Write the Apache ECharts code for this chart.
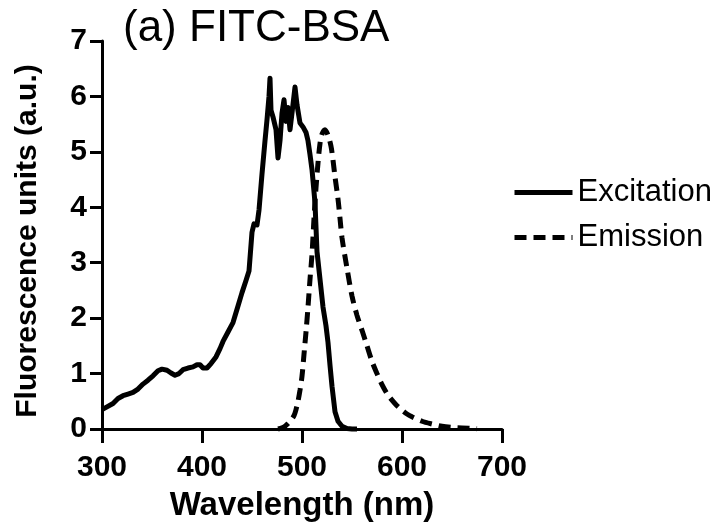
<!DOCTYPE html>
<html>
<head>
<meta charset="utf-8">
<script src="https://cdn.jsdelivr.net/npm/echarts@6/dist/echarts.min.js"></script>
<style>
html,body{margin:0;padding:0;background:#fff;}
#chart{width:718px;height:527px;}
</style>
</head>
<body>
<div id="chart"></div>
<script>
// Excitation spectrum: wavelength (nm) and fluorescence (a.u.)
var excitationWavelength = [300,305,311,316,321,326,331,336,341,346,351,356,360,365,369,373,377,381,386,391,395,398,401,405,409,414,418,421,426,431,436,440,444,447,450,452,455,457,460,463,465,467,468,469,471,474,476,478,480,482,484,486,488,490,493,495,498,501,504,506,508,510,513,515,518,521,524,526,528,530,533,536,540,545,550,555];
var excitationValues = [0.35,0.40,0.46,0.55,0.60,0.63,0.66,0.72,0.81,0.88,0.96,1.05,1.08,1.06,1.01,0.97,1.00,1.07,1.10,1.12,1.16,1.16,1.10,1.10,1.18,1.30,1.45,1.58,1.75,1.92,2.22,2.46,2.68,2.85,3.55,3.70,3.68,3.95,4.60,5.20,5.58,6.00,6.33,5.75,5.63,5.40,4.89,5.20,5.70,5.94,5.55,5.80,5.40,5.70,6.17,5.85,5.52,5.45,5.35,5.20,4.95,4.68,4.08,3.20,2.70,2.20,1.86,1.56,1.15,0.77,0.31,0.14,0.05,0.01,0,0];

// Emission spectrum
var emissionWavelength = [476,480,483,486,489,492,494,496,498,500,502,504,506,508,510,512,514,516,518,520,523,526,529,531,533,536,538,540,545,550,555,560,565,570,575,580,585,590,595,600,605,610,620,630,640,650,660,675];
var emissionValues = [0,0.02,0.05,0.10,0.16,0.24,0.35,0.50,0.70,0.95,1.35,1.75,2.20,2.70,3.15,3.80,4.35,4.80,5.15,5.32,5.40,5.30,5.10,4.85,4.55,4.15,3.80,3.45,2.90,2.40,2.05,1.78,1.50,1.22,1.00,0.80,0.64,0.52,0.42,0.34,0.27,0.22,0.14,0.09,0.05,0.03,0.02,0.005];

var xTicks = [300,400,500,600,700];
var yTicks = [0,1,2,3,4,5,6,7];
var seriesNames = ['Excitation','Emission'];
var titleText = '(a) FITC-BSA';
var xAxisTitle = 'Wavelength (nm)';
var yAxisTitle = 'Fluorescence units (a.u.)';

function pairs(xs, ys){ return xs.map(function(x,i){ return [x, ys[i]]; }); }

var FONT = '"Liberation Sans", Arial, Helvetica, sans-serif';
var chart = echarts.init(document.getElementById('chart'), null, {renderer:'canvas'});
chart.setOption({
  animation: false,
  backgroundColor: '#fff',
  title: {
    text: titleText, left: 123, top: 7, padding: 0,
    textStyle: {fontFamily: FONT, fontSize: 44, fontWeight: 'normal', color: '#000'}
  },
  legend: {
    orient: 'vertical', left: 512, top: 177, padding: 0,
    itemWidth: 58, itemHeight: 14, itemGap: 14,
    data: seriesNames,
    itemStyle: {opacity: 0},
    lineStyle: {width: 5},
    textStyle: {fontFamily: FONT, fontSize: 31, lineHeight: 31, color: '#000'}
  },
  grid: {left: 102, right: 216, top: 41, bottom: 97, containLabel: false},
  xAxis: {
    type: 'value', min: xTicks[0], max: xTicks[xTicks.length-1], interval: 100,
    name: xAxisTitle, nameLocation: 'middle', nameGap: 60,
    nameTextStyle: {fontFamily: FONT, fontSize: 33, fontWeight: 'bold', color: '#000'},
    axisLine: {lineStyle: {color: '#000', width: 3}},
    axisTick: {length: 14, lineStyle: {color: '#000', width: 3}},
    axisLabel: {margin: 24, fontFamily: FONT, fontSize: 30, fontWeight: 'bold', color: '#000'},
    splitLine: {show: false}
  },
  yAxis: {
    type: 'value', min: yTicks[0], max: yTicks[yTicks.length-1], interval: 1,
    name: yAxisTitle, nameLocation: 'middle', nameGap: 59, nameRotate: 90,
    nameTextStyle: {fontFamily: FONT, fontSize: 30, fontWeight: 'bold', color: '#000', padding: [0, 12, 0, 0]},
    axisLine: {lineStyle: {color: '#000', width: 3}},
    axisTick: {length: 12, lineStyle: {color: '#000', width: 3}},
    axisLabel: {margin: 15, fontFamily: FONT, fontSize: 30, fontWeight: 'bold', color: '#000'},
    splitLine: {show: false}
  },
  series: [
    {
      name: seriesNames[0], type: 'line', data: pairs(excitationWavelength, excitationValues),
      symbol: 'none', showSymbol: false, smooth: false, clip: false,
      lineStyle: {color: '#000', width: 5, join: 'round'},
      itemStyle: {color: '#000'}
    },
    {
      name: seriesNames[1], type: 'line', data: pairs(emissionWavelength, emissionValues),
      symbol: 'none', showSymbol: false, smooth: 0.3, clip: false,
      lineStyle: {color: '#000', width: 5, type: [12, 7], cap: 'butt'},
      itemStyle: {color: '#000'}
    }
  ]
});
</script>
</body>
</html>
